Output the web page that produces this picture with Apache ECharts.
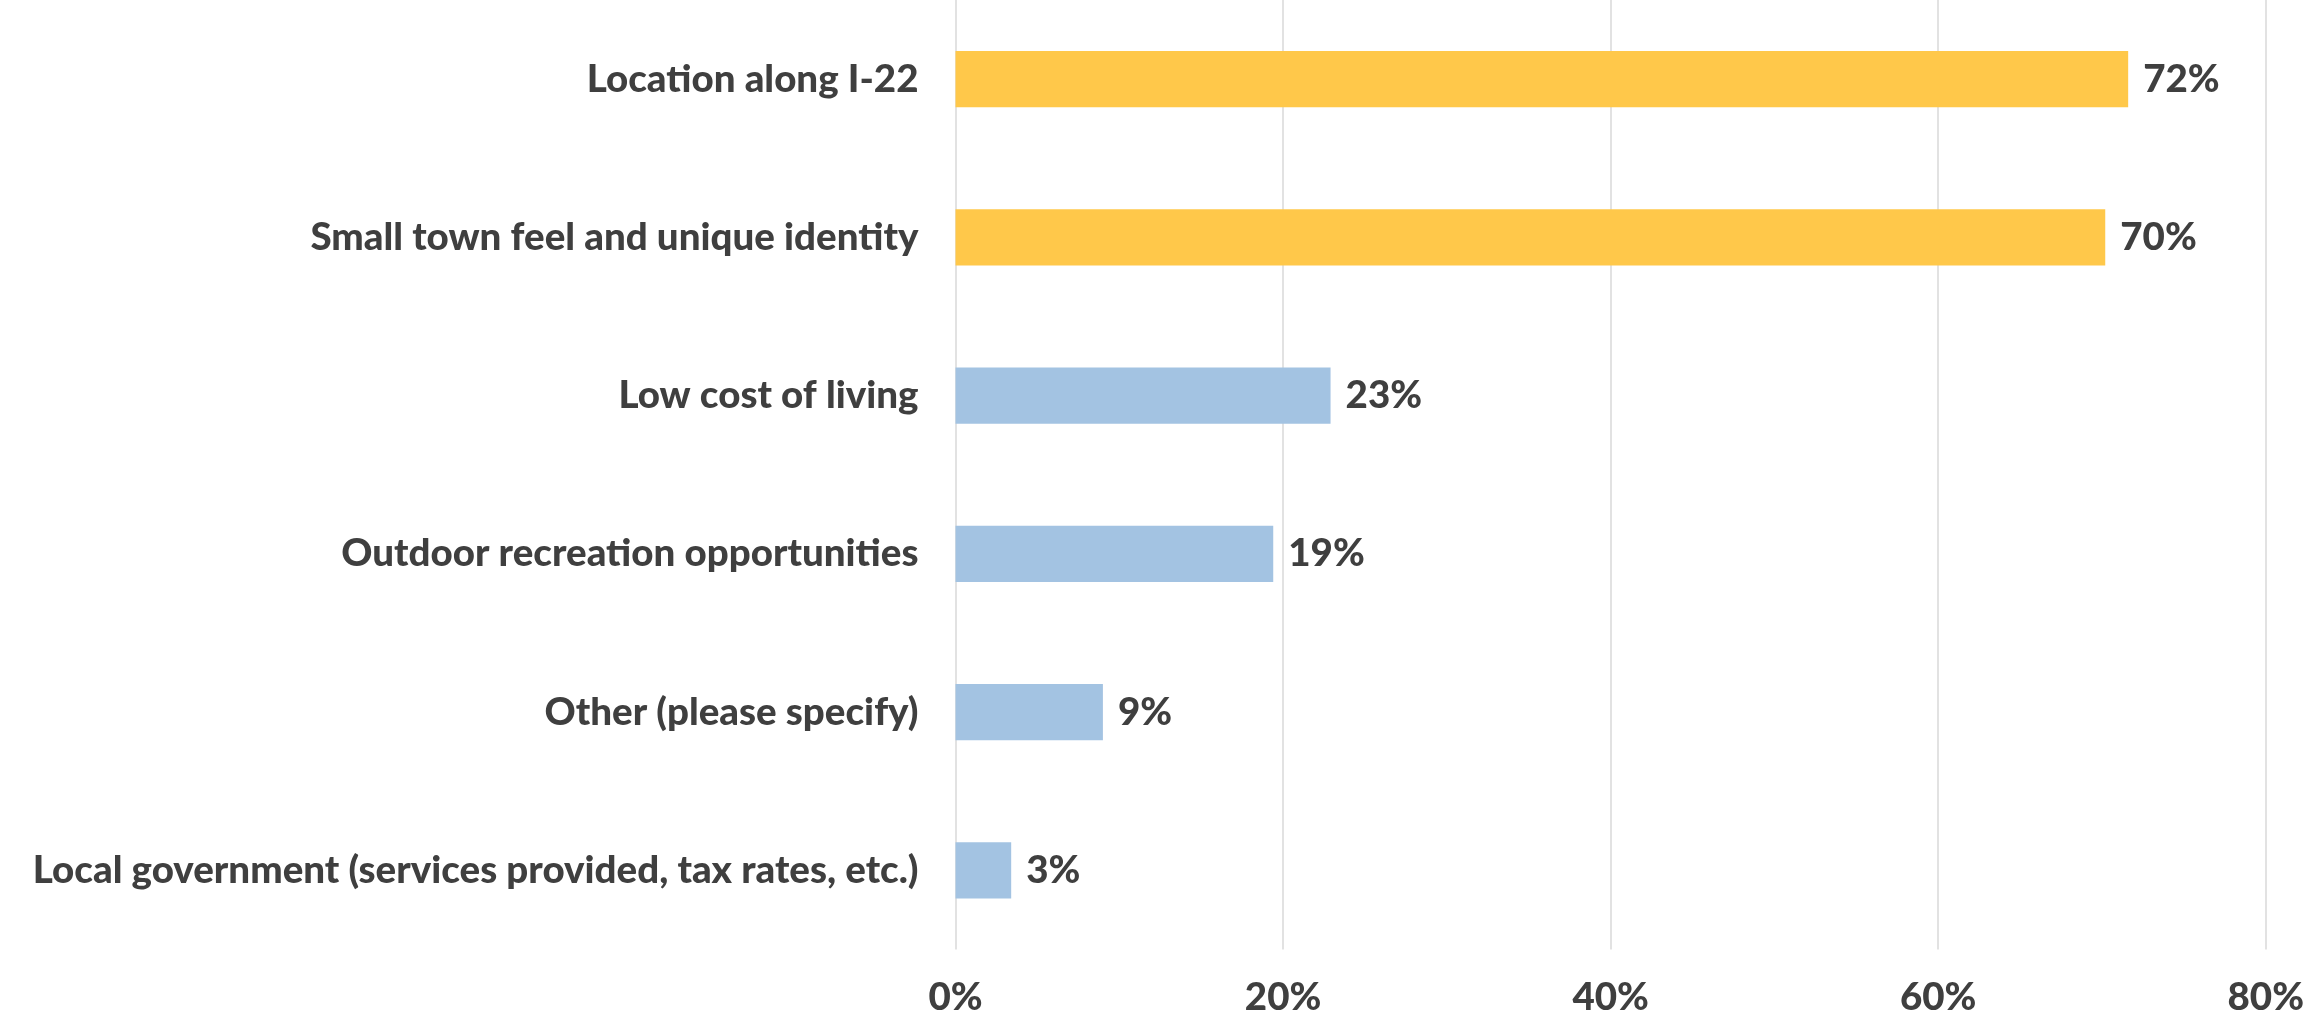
<!DOCTYPE html>
<html>
<head>
<meta charset="utf-8">
<script src="https://cdn.jsdelivr.net/npm/echarts@6/dist/echarts.min.js"></script>
<style>
html,body{margin:0;padding:0;background:#fff;}
#chart{width:2307px;height:1018px;}
</style>
</head>
<body>
<div id="chart"></div>
<script>
const categories = [
  "Location along I-22",
  "Small town feel and unique identity",
  "Low cost of living",
  "Outdoor recreation opportunities",
  "Other (please specify)",
  "Local government (services provided, tax rates, etc.)"
];
const values = [71.6, 70.2, 22.9, 19.4, 9.0, 3.4];
const highlightCount = 2;
const xTicks = [0, 20, 40, 60, 80];

const colorHighlight = '#FFC84A';
const colorNormal = '#A3C3E2';
const textColor = '#3F3F3F';
const fontFamily = 'Lato';
const fontWeight = 900;
const fontSize = 38.5;

const chart = echarts.init(document.getElementById('chart'), null, {renderer: 'canvas'});
chart.setOption({
  animation: false,
  backgroundColor: '#ffffff',
  grid: {left: 955.5, right: 38.5, top: -2, bottom: 68.5, containLabel: false},
  xAxis: {
    type: 'value',
    min: xTicks[0],
    max: xTicks[xTicks.length - 1],
    interval: 20,
    axisLine: {show: false},
    axisTick: {show: false},
    splitLine: {show: true, lineStyle: {color: '#D9D9D9', width: 1.5}},
    axisLabel: {
      formatter: v => v + '%',
      color: textColor, fontSize: fontSize, fontWeight: fontWeight, fontFamily: fontFamily,
      margin: 29
    }
  },
  yAxis: {
    type: 'category',
    data: categories,
    inverse: true,
    axisLine: {show: false},
    axisTick: {show: false},
    splitLine: {show: false},
    axisLabel: {
      color: textColor, fontSize: fontSize, fontWeight: fontWeight, fontFamily: fontFamily,
      margin: 37
    }
  },
  series: [{
    type: 'bar',
    data: values.map((v, i) => ({
      value: v,
      itemStyle: {color: i < highlightCount ? colorHighlight : colorNormal}
    })),
    barWidth: '35.6%',
    label: {
      show: true,
      position: 'right',
      distance: 15,
      formatter: p => Math.round(p.value) + '%',
      color: textColor, fontSize: fontSize, fontWeight: fontWeight, fontFamily: fontFamily
    }
  }]
});
</script>
</body>
</html>
